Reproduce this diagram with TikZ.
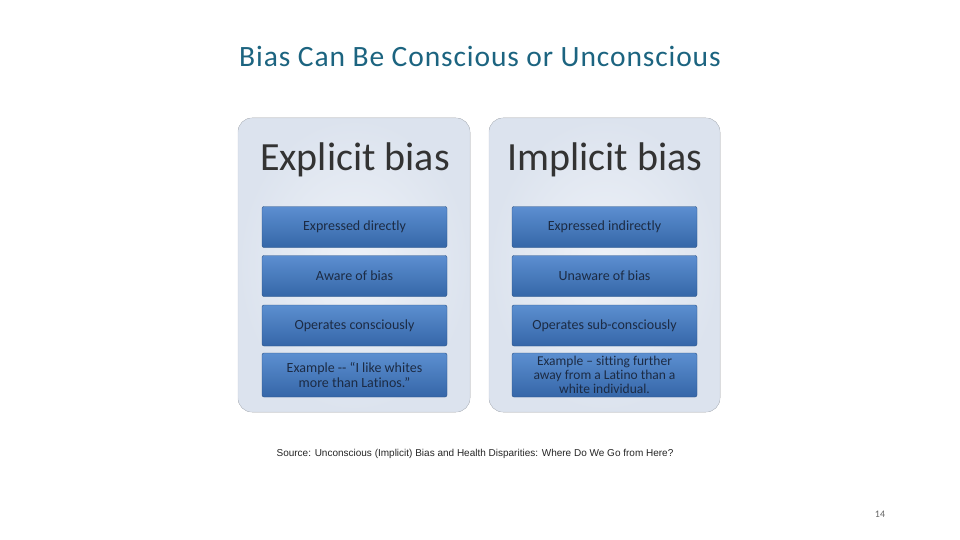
\documentclass[tikz,border=0pt]{standalone}
\usepackage{fontspec}
\setmainfont[Ligatures={NoCommon}]{Carlito}
\newfontfamily\arialf{Liberation Sans}
\newfontfamily\titlef[LetterSpace=3]{Carlito}
\definecolor{titlec}{HTML}{1C6480}
\definecolor{panelc}{HTML}{DCE3EE}
\definecolor{panelin}{HTML}{EEF2F8}
\definecolor{boxtop}{HTML}{5C8FD0}
\definecolor{boxbot}{HTML}{3566A8}
\definecolor{boxtxt}{HTML}{1C2B44}
\definecolor{headc}{HTML}{333333}
\begin{document}
\begin{tikzpicture}[x=1pt,y=-1pt,
  panel/.style={rounded corners=14pt,inner color=panelin,outer color=panelc,draw=panelc!80!gray},
  item/.style={rounded corners=2pt,top color=boxtop,bottom color=boxbot,draw=boxbot!80!black,line width=0.4pt,
    minimum width=185pt,minimum height=41pt,align=center,text=boxtxt,font=\fontsize{14}{14.5}\selectfont,inner sep=1pt},
  head/.style={text=headc,font=\fontsize{40}{42}\selectfont}]
\useasboundingbox (0,0) rectangle (960,540);
\fill[white] (0,0) rectangle (960,540);
\node[text=titlec,font=\titlef\fontsize{29.5}{32}\selectfont] (title) at (480,56) {Bias Can Be Conscious or Unconscious};
\filldraw[panel] (238,118) rectangle (470,412);
\filldraw[panel] (489,118) rectangle (720,412);
\node[head] (h1) at (355,160) {Explicit bias};
\node[head] (h2) at (605,160) {Implicit bias};
\node[item] (l1) at (354.5,227) {Expressed directly};
\node[item] (l2) at (354.5,276) {Aware of bias};
\node[item] (l3) at (354.5,325.5) {Operates consciously};
\node[item,minimum height=44pt] (l4) at (354.5,375) {Example {-}{-} “I like whites\\more than Latinos.”};
\node[item] (r1) at (604.5,227) {Expressed indirectly};
\node[item] (r2) at (604.5,276) {Unaware of bias};
\node[item] (r3) at (604.5,325.5) {Operates sub-conscious{}ly};
\node[item,minimum height=44pt,font=\fontsize{13.5}{14}\selectfont] (r4) at (604.5,375) {Example -- sitting further\\away from a Latino than a\\white individual.};
\node[font=\arialf\fontsize{10}{11}\selectfont,text=black!85] (src) at (475,454) {Source: Unconscious (Implicit) Bias and Health Disparities: Where Do We Go from Here?};
\node[text=black!60,font=\fontsize{10}{12}\selectfont] (pg) at (880,514) {14};
\end{tikzpicture}
\end{document}
